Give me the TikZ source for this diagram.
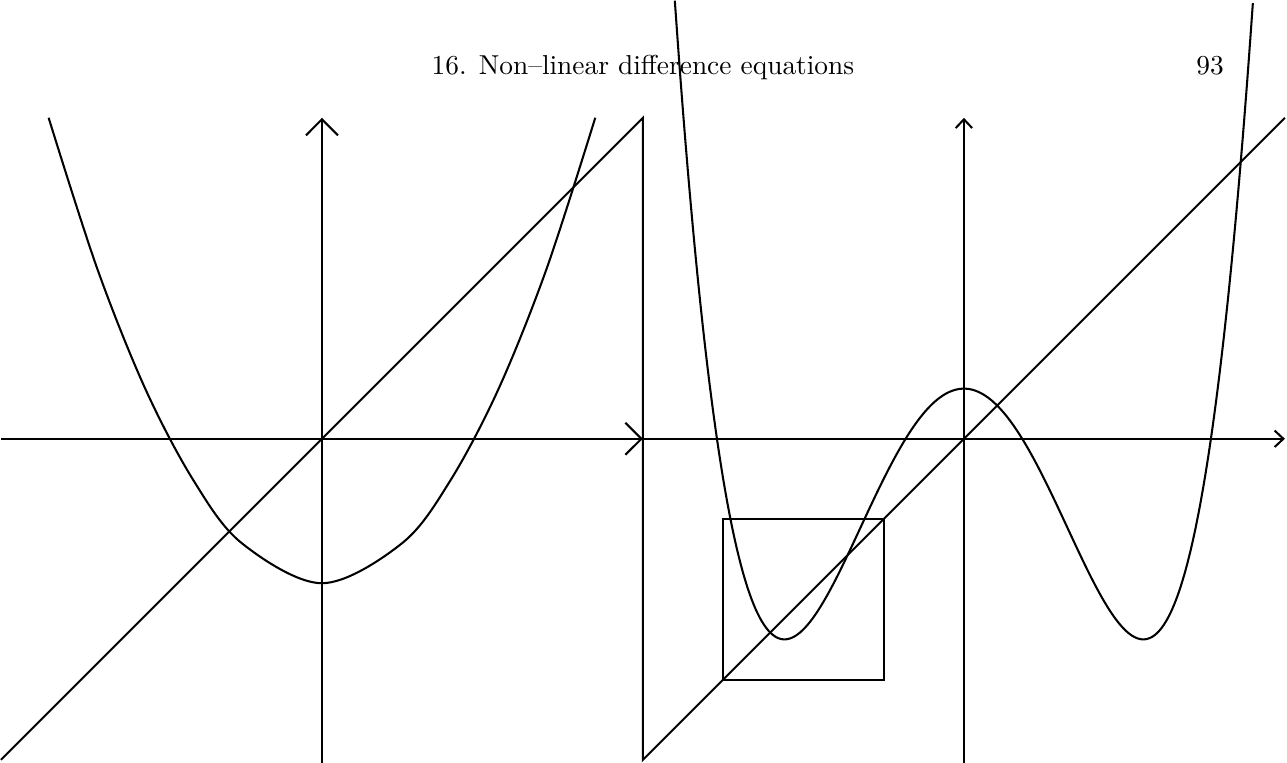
\documentclass[tikz,border=0pt]{standalone}
\usepackage{amsmath}
\usepackage{xcolor}
\usepackage{tikz}
\usetikzlibrary{arrows.meta}
\newcommand{\mapaxes}[3]{%
  \draw[-{Straight Barb[length=#2,width=#3]}] (#1-2,0) -- (#1+2,0);%
  \draw[-{Straight Barb[length=#2,width=#3]}] (#1,-2.02) -- (#1,2);%
}

\begin{document}
\begin{tikzpicture}[x=2.06cm,y=2.06cm,line width=0.75pt]
  \useasboundingbox (-2.006,-2.015) rectangle (6.013,2.734);
  \node[anchor=base,inner sep=0pt] (runhead) at (2,2.268) {16. Non--linear difference equations};
  \node[anchor=base east,inner sep=0pt] (pageno) at (5.626,2.268) {93};
  \mapaxes{0}{5.9pt}{11.7pt}
  \mapaxes{4}{3.2pt}{6pt}
  \draw (-2,-2) -- (2,2) -- (2,-2) -- (6,2);
  \draw (2.5,-1.5) rectangle (3.5,-0.5);
  % coarse sampling gives the slightly angular parabola
  \draw[smooth,tension=0.55,samples at={-1.703,-1.4,-1.1,-0.8,-0.5,0,0.5,0.8,1.1,1.4,1.703}] plot (\x,{\x*\x-0.9});
  \draw[smooth,samples=121,domain=-1.8014:1.8014] plot ({4+\x},{(\x*\x-1.25)^2-1.25});
\end{tikzpicture}
\end{document}
